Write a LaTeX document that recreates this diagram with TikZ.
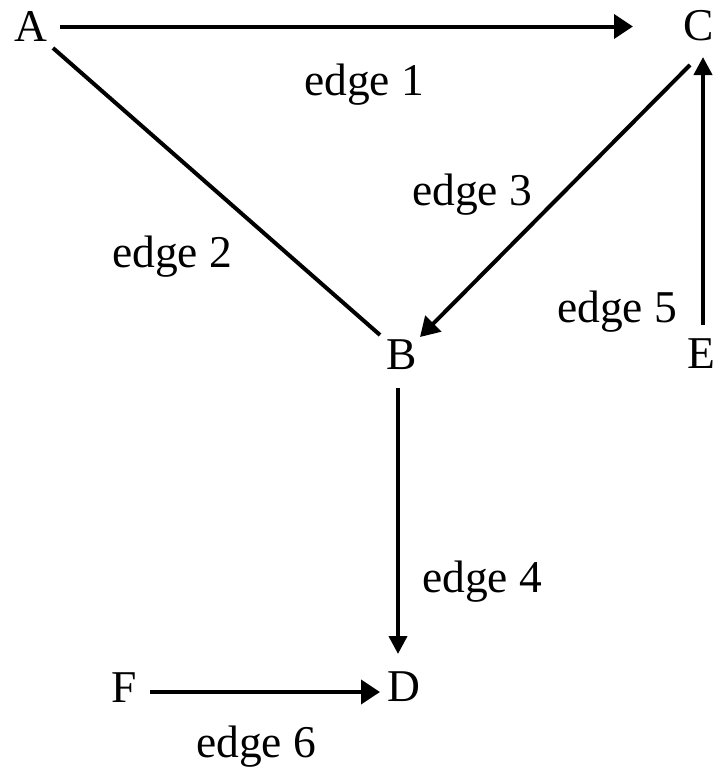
\documentclass[tikz,border=0pt]{standalone}
\usepackage{fontspec}
\setmainfont{Liberation Serif}
\usetikzlibrary{arrows.meta}
\begin{document}
\begin{tikzpicture}[x=1pt,y=-1pt,
  vtx/.style={inner sep=0pt,font=\fontsize{45.5}{50}\selectfont},
  lbl/.style={inner sep=0pt,anchor=base west,font=\fontsize{45.5}{50}\selectfont},
  edgeline/.style={line width=4pt},
  harr/.style={edgeline,-{Triangle[length=19pt,width=24pt]}},
  varr/.style={edgeline,-{Triangle[length=18pt,width=18pt]}},
  darr/.style={edgeline,-{Triangle[length=19pt,width=22pt]}}]
\useasboundingbox (0,0) rectangle (715,771);
\node[vtx] (A) at (31,26) {A};
\node[vtx] (C) at (699,26) {C};
\node[vtx] (B) at (402,355) {B};
\node[vtx] (E) at (701,354) {E};
\node[vtx] (D) at (404,687) {D};
\node[vtx] (F) at (124,688) {F};
% edges
\draw[harr] ([shift={(29,0.5)}]A.center) -- ([shift={(-66,0.5)}]C.center);
\draw[edgeline] ([shift={(22,22)}]A.center) -- ([shift={(-22,-20)}]B.center);
\draw[darr] ([shift={(-9,39)}]C.center) -- ([shift={(18,-18)}]B.center);
\draw[varr] ([shift={(-4,33)}]B.center) -- ([shift={(-6,-33)}]D.center);
\draw[varr] ([shift={(2,-29)}]E.center) -- ([shift={(4,31)}]C.center);
\draw[harr] ([shift={(26,4)}]F.center) -- ([shift={(-24,5)}]D.center);
% labels
\node[lbl] (l1) at (304,95) {edge 1};
\node[lbl] (l2) at (112,267) {edge 2};
\node[lbl] (l3) at (412,205) {edge 3};
\node[lbl] (l5) at (557,322) {edge 5};
\node[lbl] (l4) at (422,592) {edge 4};
\node[lbl] (l6) at (196,757) {edge 6};
\end{tikzpicture}
\end{document}
